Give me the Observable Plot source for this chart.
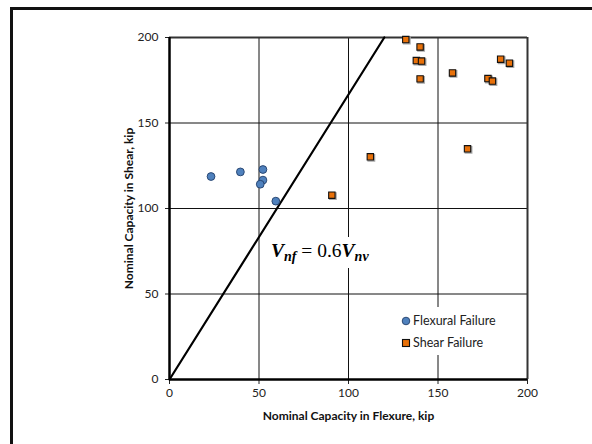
<!DOCTYPE html>
<html>
<head>
<meta charset="utf-8">
<script src="https://cdn.jsdelivr.net/npm/d3@7"></script>
<script src="https://cdn.jsdelivr.net/npm/@observablehq/plot@0.6"></script>
<style>
  html, body { margin: 0; padding: 0; background: #fff; overflow: hidden; }
  #wrap { position: relative; width: 592px; height: 444px; overflow: hidden; font-family: Lato, sans-serif; }
  #border { position: absolute; left: 10px; top: 7px; width: 640px; height: 500px; border: 3px solid #111; box-sizing: border-box; pointer-events: none; }
  #legend { position: absolute; left: 398px; top: 307px; width: 114px; height: 48px; background: #fff; font-size: 12.5px; color: #222; }
  .li { position: absolute; left: 15px; line-height: 14px; white-space: nowrap; }
  .sw { position: absolute; }
  #eq { position: absolute; left: 266px; top: 237px; width: 112px; height: 31px; background: #fff;
        font-family: "Liberation Serif", "DejaVu Serif", serif; font-size: 19.5px; color: #000; white-space: nowrap; }
  #eq .in { position: absolute; left: 5px; top: 3px; }
  #eq b { font-style: italic; }
  #eq sub { font-size: 14px; font-weight: bold; font-style: italic; vertical-align: -4px; }
</style>
</head>
<body>
<div id="wrap"></div>
<script>
// Data
const flexuralX = [23.2, 39.6, 52.2, 52.2, 50.7, 59.4];
const flexuralY = [118.7, 121.4, 122.8, 116.6, 114.2, 104.3];
const shearX = [132, 140, 137.9, 140.8, 140, 158.1, 185, 189.9, 177.9, 180.4, 166.5, 112.2, 90.7];
const shearY = [198.8, 194.5, 186.5, 186.2, 175.8, 179.3, 187.3, 185, 176, 174.5, 134.9, 130.2, 107.8];
const ratioLineX = [0, 120];   // Vnf = 0.6 Vnv
const ratioLineY = [0, 200];
const xTicks = [0, 50, 100, 150, 200];
const yTicks = [0, 50, 100, 150, 200];
const xLabel = "Nominal Capacity in Flexure, kip";
const yLabel = "Nominal Capacity in Shear, kip";
const seriesNames = ["Flexural Failure", "Shear Failure"];

const flexural = flexuralX.map((x, i) => ({x, y: flexuralY[i]}));
const shear = shearX.map((x, i) => ({x, y: shearY[i]}));
const ratioLine = ratioLineX.map((x, i) => ({x, y: ratioLineY[i]}));

const chart = Plot.plot({
  width: 592,
  height: 444,
  marginLeft: 169,
  marginRight: 65,
  marginTop: 37,
  marginBottom: 65,
  style: {fontFamily: "Lato, sans-serif", background: "transparent", overflow: "visible"},
  x: {domain: [0, 200]},
  y: {domain: [0, 200]},
  marks: [
    Plot.gridX(xTicks, {stroke: "#111", strokeOpacity: 1, strokeWidth: 1}),
    Plot.gridY(yTicks, {stroke: "#111", strokeOpacity: 1, strokeWidth: 1}),
    Plot.ruleX([xTicks[xTicks.length - 1]], {stroke: "#333", strokeWidth: 2}),
    Plot.ruleY([yTicks[yTicks.length - 1]], {stroke: "#333", strokeWidth: 2}),
    Plot.axisX({ticks: xTicks, tickSize: 5, tickPadding: 4, fontSize: 12, color: "#222",
      label: xLabel, labelAnchor: "center", labelArrow: "none", labelOffset: 40}),
    Plot.axisY({ticks: yTicks, tickSize: 4, tickPadding: 7, fontSize: 12, color: "#222",
      label: yLabel, labelAnchor: "center", labelArrow: "none", labelOffset: 45}),
    Plot.ruleY([0], {stroke: "#000", strokeWidth: 2.5}),
    Plot.ruleX([0], {stroke: "#000", strokeWidth: 2.5}),
    Plot.line(ratioLine, {x: "x", y: "y", stroke: "#000", strokeWidth: 2.2}),
    Plot.dot(flexural, {x: "x", y: "y", r: 3.9, fill: "#4f81bd", stroke: "#23406b", strokeWidth: 0.9}),
    Plot.dot(shear, {x: "x", y: "y", symbol: "square", r: 3.6, fill: "#aaa", stroke: "#aaa", dx: 1, dy: 1}),
    Plot.dot(shear, {x: "x", y: "y", symbol: "square", r: 3.6, fill: "#e8710a", stroke: "#111", strokeWidth: 1.1})
  ]
});

// bold axis labels
chart.querySelectorAll("[aria-label='x-axis label'], [aria-label='y-axis label']").forEach(g => {
  g.setAttribute("font-weight", "bold");
  g.setAttribute("font-size", "12");
  g.setAttribute("fill", "#111");
});

const wrap = document.getElementById("wrap");
chart.style.position = "absolute";
chart.style.left = "0px";
chart.style.top = "0px";
wrap.appendChild(chart);

// Equation annotation
const eq = document.createElement("div");
eq.id = "eq";
eq.innerHTML = '<span class="in"><b>V</b><sub>nf</sub> = 0.6<b>V</b><sub>nv</sub></span>';
wrap.appendChild(eq);

// Legend
const legend = document.createElement("div");
legend.id = "legend";
legend.innerHTML =
  '<svg class="sw" style="left:3px;top:9px" width="10" height="10"><circle cx="5" cy="5" r="3.8" fill="#4f81bd" stroke="#23406b" stroke-width="0.9"/></svg>' +
  '<div class="li" style="top:7px">' + seriesNames[0] + '</div>' +
  '<svg class="sw" style="left:3px;top:31px" width="10" height="10"><rect x="1.5" y="1.5" width="7" height="7" fill="#e8710a" stroke="#111" stroke-width="1.1"/></svg>' +
  '<div class="li" style="top:29px">' + seriesNames[1] + '</div>';
wrap.appendChild(legend);

// outer frame
const border = document.createElement("div");
border.id = "border";
wrap.appendChild(border);
</script>
</body>
</html>
